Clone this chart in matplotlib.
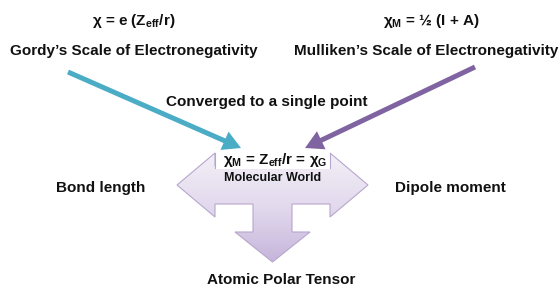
import matplotlib
matplotlib.use("Agg")
import matplotlib.pyplot as plt
import numpy as np
from matplotlib.patches import Polygon, Rectangle, FancyArrow
from matplotlib.colors import LinearSegmentedColormap

plt.rcParams['font.family'] = ['Liberation Sans', 'DejaVu Sans']
plt.rcParams['mathtext.fontset'] = 'custom'
plt.rcParams['mathtext.rm'] = 'Liberation Sans:bold'
plt.rcParams['mathtext.it'] = 'Liberation Sans:bold'
plt.rcParams['mathtext.bf'] = 'Liberation Sans:bold'
plt.rcParams['mathtext.default'] = 'bf'

# ---- content ----
left_formula = r'$\chi$ = e (Z$_{\mathregular{eff}}$/r)'
left_title = "Gordy\u2019s Scale of Electronegativity"
right_formula = r'$\chi_{\mathregular{M}}$' + " = \u00bd (I + A)"
right_title = "Mulliken\u2019s Scale of Electronegativity"
middle_label = "Converged to a single point"
center_formula = r'$\chi_{\mathregular{M}}$ = Z$_{\mathregular{eff}}$/r = $\chi_{\mathregular{G}}$'
center_label = "Molecular World"
left_out = "Bond length"
right_out = "Dipole moment"
bottom_out = "Atomic Polar Tensor"

# ---- geometry (pixel coords) ----
blue_arrow = [(68, 72), (241, 148)]
purple_arrow = [(475, 67), (305, 148)]
shape_pts = [(177, 185), (215, 153), (215, 166), (330, 166), (330, 153), (368, 185),
             (330, 217), (330, 204), (292, 204), (292, 232), (310, 232), (272.5, 262),
             (235, 232), (253, 232), (253, 204), (215, 204), (215, 217)]
box = (215, 153, 115, 15)

fig = plt.figure(figsize=(5.6, 2.88), dpi=100)
ax = fig.add_axes([0, 0, 1, 1])

# gradient-filled three-way arrow
cmap = LinearSegmentedColormap.from_list('lav', ['#f3f0f7', '#e2d9ed', '#c6b5db'])
poly = Polygon(shape_pts, closed=True, facecolor='none', edgecolor='#b8a6ce', lw=0.8, zorder=3)
ax.add_patch(poly)
grad = np.linspace(0, 1, 256).reshape(-1, 1)
im = ax.imshow(grad, cmap=cmap, extent=(177, 368, 262, 153), aspect='auto', zorder=2,
               origin='upper')
im.set_clip_path(poly)
ax.set_xlim(0, 560)
ax.set_ylim(288, 0)
ax.axis('off')

# white formula box (outlined on its sides)
ax.add_patch(Rectangle((box[0], box[1]), box[2], box[3] + 0.6, facecolor='white',
                       edgecolor='none', zorder=4))
for xx in (box[0], box[0] + box[2]):
    ax.plot([xx, xx], [box[1], box[1] + box[3]], color='#b8a6ce', lw=0.8, zorder=4)

# arrows
for pts, col in [(blue_arrow, '#4bacc6'), (purple_arrow, '#8064a2')]:
    (x0, y0), (x1, y1) = pts
    ax.add_patch(FancyArrow(x0, y0, x1 - x0, y1 - y0, width=5, head_width=20,
                            head_length=18, length_includes_head=True,
                            color=col, lw=0, zorder=5))

kw = dict(ha='center', va='center', fontweight='bold', color='#111111', zorder=6)
fs = 11
ax.text(133.5, 21, left_formula, fontsize=fs, **kw)
ax.text(133.5, 51, left_title, fontsize=fs, **kw)
ax.text(431, 21, right_formula, fontsize=fs, **kw)
ax.text(426, 51, right_title, fontsize=fs, **kw)
ax.text(267, 102, middle_label, fontsize=fs, **kw)
ax.text(275, 160, center_formula, fontsize=fs, **kw)
ax.text(273, 178, center_label, fontsize=9, **kw)
ax.text(101, 188, left_out, fontsize=fs, **kw)
ax.text(450, 188, right_out, fontsize=fs, **kw)
ax.text(281, 280, bottom_out, fontsize=fs, **kw)

fig.savefig('out.png', dpi=100)
